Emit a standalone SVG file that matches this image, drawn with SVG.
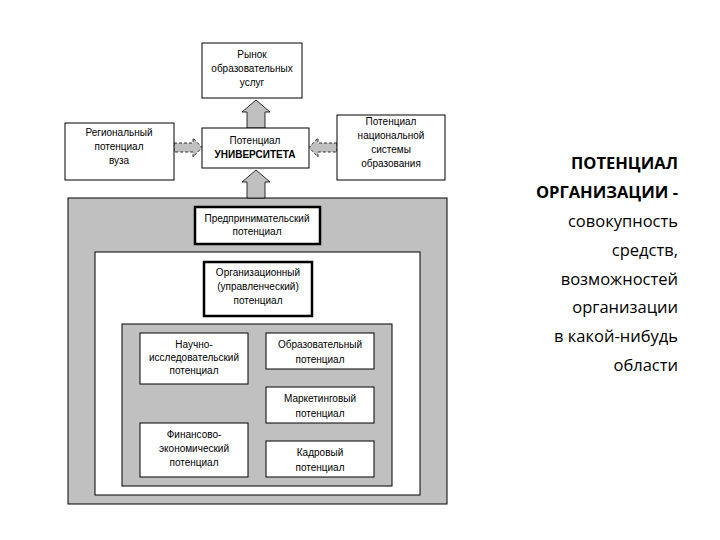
<svg xmlns="http://www.w3.org/2000/svg" width="720" height="540" viewBox="0 0 720 540">
<style>
.b{fill:#fff;stroke:#000;stroke-width:1}
.t{stroke-width:2.5}
.g{fill:#c0c0c0;stroke:#000;stroke-width:1}
.a{fill:#c0c0c0;stroke:#000;stroke-width:0.8}
.d{stroke-dasharray:3 2}
text{font-family:"Liberation Sans",Arial,sans-serif;font-size:10px;text-anchor:middle;fill:#000}
.r{font-family:"Open Sans","Liberation Sans",sans-serif;font-size:16.5px;text-anchor:end}
</style>
<rect width="720" height="540" fill="#fff"/>
<g id="outer"><rect class="g" x="68" y="198" width="379" height="306"/></g>
<g id="white"><rect class="b" x="95" y="252" width="325" height="243"/></g>
<g id="inner"><rect class="g" x="122" y="324" width="270" height="162"/></g>
<g id="connectors">
<path class="a" d="M247,128 V112 H242 L256,100 L270,112 H265 V128 Z"/>
<path class="a" d="M247,198 V182 H242 L256,170 L270,182 H265 V198 Z"/>
<path class="a d" d="M174,143 H193 V138 L202,147.5 L193,157 V152 H174 Z"/>
<path class="a d" d="M337,143 H318 V138 L309,147.5 L318,157 V152 H337 Z"/>
</g>
<g id="rynok"><rect class="b" x="202" y="43" width="100" height="55"/>
<text x="252" y="58">Рынок</text><text x="252" y="72">образовательных</text><text x="252" y="86">услуг</text></g>
<g id="regional"><rect class="b" x="65" y="123" width="109" height="57"/>
<text x="119" y="136">Региональный</text><text x="119" y="150">потенциал</text><text x="119" y="164">вуза</text></g>
<g id="univ"><rect class="b" x="202" y="128" width="107" height="40"/>
<text x="255" y="144">Потенциал</text><text x="255" y="158" font-weight="bold">УНИВЕРСИТЕТА</text></g>
<g id="national"><rect class="b" x="337" y="115" width="108" height="65"/>
<text x="391" y="125">Потенциал</text><text x="391" y="139">национальной</text><text x="391" y="153">системы</text><text x="391" y="167">образования</text></g>
<g id="entre"><rect class="b t" x="195" y="207" width="125" height="37"/>
<text x="257" y="222">Предпринимательский</text><text x="257" y="235">потенциал</text></g>
<g id="org"><rect class="b t" x="204" y="262" width="108" height="54"/>
<text x="258" y="276">Организационный</text><text x="258" y="290">(управленческий)</text><text x="258" y="304">потенциал</text></g>
<g id="research"><rect class="b" x="140" y="333" width="108" height="51"/>
<text x="194" y="348">Научно-</text><text x="194" y="361">исследовательский</text><text x="194" y="374">потенциал</text></g>
<g id="edu"><rect class="b" x="266" y="333" width="108" height="36"/>
<text x="320" y="348">Образовательный</text><text x="320" y="363">потенциал</text></g>
<g id="mark"><rect class="b" x="266" y="387" width="108" height="36"/>
<text x="320" y="402">Маркетинговый</text><text x="320" y="417">потенциал</text></g>
<g id="fin"><rect class="b" x="140" y="423" width="108" height="54"/>
<text x="194" y="438">Финансово-</text><text x="194" y="452">экономический</text><text x="194" y="466">потенциал</text></g>
<g id="kadr"><rect class="b" x="266" y="441" width="108" height="36"/>
<text x="320" y="456">Кадровый</text><text x="320" y="471">потенциал</text></g>
<g id="def">
<text class="r" x="678" y="169" font-weight="bold">ПОТЕНЦИАЛ</text>
<text class="r" x="678" y="198" font-weight="bold">ОРГАНИЗАЦИИ -</text>
<text class="r" x="678" y="227">совокупность</text>
<text class="r" x="678" y="256">средств,</text>
<text class="r" x="678" y="285">возможностей</text>
<text class="r" x="678" y="313">организации</text>
<text class="r" x="678" y="342">в какой-нибудь</text>
<text class="r" x="678" y="371">области</text>
</g>
</svg>
